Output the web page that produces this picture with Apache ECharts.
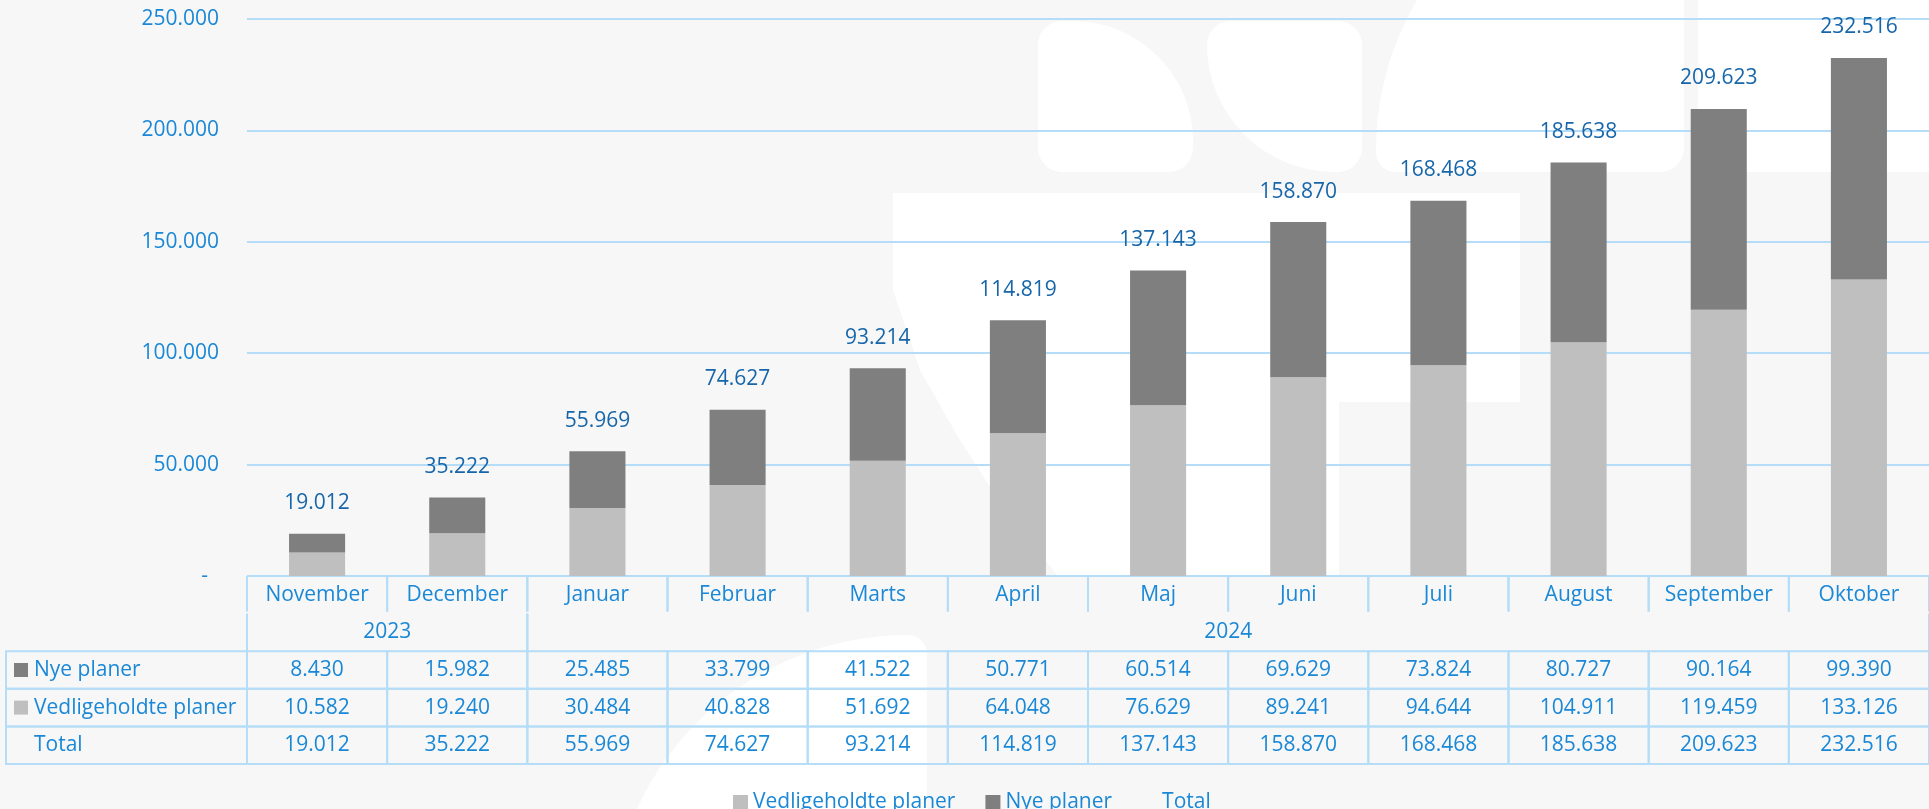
<!DOCTYPE html>
<html>
<head>
<meta charset="utf-8">
<title>Planer</title>
<script src="https://cdn.jsdelivr.net/npm/echarts@6/dist/echarts.min.js"></script>
<style>
  html, body { margin: 0; padding: 0; background: #f7f7f7; }
  #main { width: 1929px; height: 809px; }
</style>
</head>
<body>
<div id="main"></div>
<script>
  // data
  var months = ['November', 'December', 'Januar', 'Februar', 'Marts', 'April', 'Maj', 'Juni', 'Juli', 'August', 'September', 'Oktober']
  var years = ['2023', '2024']
  var yearSpans = [2, 10] // number of months under each year
  var nyePlaner = [8430, 15982, 25485, 33799, 41522, 50771, 60514, 69629, 73824, 80727, 90164, 99390]
  var vedlPlaner = [10582, 19240, 30484, 40828, 51692, 64048, 76629, 89241, 94644, 104911, 119459, 133126]
  var total = [19012, 35222, 55969, 74627, 93214, 114819, 137143, 158870, 168468, 185638, 209623, 232516]

  var BLUE = '#1a88d6'
  var DARKBLUE = '#1766aa'
  var LINE = '#b5ddf8'
  var FONT = 'Open Sans'

  function fmt(v) {
    return String(v).replace(/\B(?=(\d{3})+(?!\d))/g, '.')
  }

  // data table under the chart: row 0 months, row 1 years, rows 2-4 values
  var rowNames = ['Nye planer', 'Vedligeholdte planer', 'Total']
  var rowColors = ['#7f7f7f', '#bfbfbf', null]
  var rowData = [nyePlaner, vedlPlaner, total]
  var cells = []
  months.forEach(function (m, i) {
    cells.push({ kind: 'month', col: i, end: i, row: 0, text: m })
  })
  var start = 0
  years.forEach(function (y, i) {
    cells.push({ kind: 'year', col: start, end: start + yearSpans[i] - 1, row: 1, text: y })
    start += yearSpans[i]
  })
  rowData.forEach(function (arr, r) {
    cells.push({ kind: 'head', col: 0, end: 0, row: r + 2, text: rowNames[r], color: rowColors[r] })
    arr.forEach(function (v, i) {
      cells.push({ kind: 'data', col: i, end: i, row: r + 2, text: fmt(v) })
    })
  })

  function renderCell(params, api) {
    var cell = cells[params.dataIndex]
    var p0 = api.coord([cell.col, cell.row])
    var p1 = api.coord([cell.end, cell.row])
    var size = api.size([1, 1])
    var x0 = p0[0] - size[0] / 2
    var x1 = p1[0] + size[0] / 2
    var y0 = p0[1] - size[1] / 2
    var y1 = p0[1] + size[1] / 2
    var ls = { stroke: LINE, lineWidth: 2, fill: 'none' }
    var children = []
    function line(ax, ay, bx, by) {
      children.push({ type: 'line', shape: { x1: ax, y1: ay, x2: bx, y2: by }, style: ls })
    }
    if (cell.kind === 'head') {
      x0 = 6
      x1 = params.coordSys.x
    }
    if (cell.kind === 'month') {
      line(x0, y0, x1, y0)
      line(x0, y0, x0, y1 - 2)
      line(x1, y0, x1, y1 - 2)
    } else if (cell.kind === 'year') {
      line(x0, y0, x0, y1)
      line(x1, y0, x1, y1)
    } else {
      children.push({ type: 'rect', shape: { x: x0, y: y0, width: x1 - x0, height: y1 - y0 }, style: ls })
    }
    var tx = (x0 + x1) / 2
    var align = 'center'
    if (cell.kind === 'head') {
      tx = x0 + 28
      align = 'left'
      if (cell.color) {
        children.push({ type: 'rect', shape: { x: x0 + 8, y: p0[1] - 7, width: 14, height: 14 }, style: { fill: cell.color } })
      }
    }
    children.push({
      type: 'text',
      style: {
        text: cell.text, x: tx, y: p0[1], align: align, verticalAlign: 'middle',
        fill: BLUE, fontSize: 21, fontFamily: FONT
      }
    })
    return { type: 'group', children: children }
  }

  var myChart = echarts.init(document.getElementById('main'))
  var white = { fill: '#ffffff' }
  var option = {
    backgroundColor: '#f7f7f7',
    animation: false,
    // faint logo watermark in the background
    graphic: [
      { type: 'rect', z: -100, shape: { x: 1038, y: 21, width: 155, height: 151, r: [24, 120, 24, 24] }, style: white },
      { type: 'rect', z: -100, shape: { x: 1207, y: 21, width: 155, height: 151, r: [24, 24, 24, 130] }, style: white },
      { type: 'rect', z: -100, shape: { x: 1376, y: -145, width: 308, height: 317, r: [295, 0, 24, 20] }, style: white },
      { type: 'rect', z: -100, shape: { x: 1698, y: -40, width: 260, height: 212, r: [0, 0, 0, 24] }, style: white },
      {
        type: 'polygon', z: -100, style: white,
        shape: { points: [[893, 193], [1520, 193], [1520, 402], [1339, 402], [1339, 576], [1058, 576], [1005, 510], [958, 437], [920, 370], [893, 290]] }
      },
      { type: 'rect', z: -100, shape: { x: 610, y: 635, width: 317, height: 300, r: [310, 20, 0, 0] }, style: white }
    ],
    legend: {
      left: 733,
      top: 792,
      padding: 0,
      itemWidth: 15,
      itemHeight: 15,
      itemGap: 30,
      data: [
        { name: 'Vedligeholdte planer', icon: 'rect' },
        { name: 'Nye planer', icon: 'rect' },
        { name: 'Total', icon: 'rect', itemStyle: { opacity: 0 } }
      ],
      textStyle: { color: BLUE, fontSize: 21, fontFamily: FONT }
    },
    grid: [
      { left: 247, top: 19, width: 1702, height: 557 },
      { left: 247, top: 576, width: 1702, height: 188 }
    ],
    xAxis: [
      {
        type: 'category', data: months, gridIndex: 0,
        axisLine: { show: false }, axisTick: { show: false }, axisLabel: { show: false }
      },
      { type: 'category', data: months, gridIndex: 1, show: false }
    ],
    yAxis: [
      {
        type: 'value', gridIndex: 0, min: 0, max: 250000, interval: 50000,
        splitLine: { lineStyle: { color: LINE, width: 2 } },
        axisLabel: {
          margin: 28, color: BLUE, fontSize: 21, fontFamily: FONT,
          formatter: function (v) { return v === 0 ? '-  ' : fmt(v) }
        }
      },
      { type: 'category', data: ['m', 'y', 'n', 'v', 't'], inverse: true, gridIndex: 1, show: false }
    ],
    series: [
      {
        name: 'Vedligeholdte planer', type: 'bar', stack: 'plan', barWidth: '40%',
        data: vedlPlaner, itemStyle: { color: '#bfbfbf' }
      },
      {
        name: 'Nye planer', type: 'bar', stack: 'plan',
        data: nyePlaner, itemStyle: { color: '#7f7f7f' },
        label: {
          show: true, position: 'top', distance: 20,
          color: DARKBLUE, fontSize: 21, fontFamily: FONT,
          formatter: function (p) { return fmt(total[p.dataIndex]) }
        }
      },
      {
        name: 'Total', type: 'line', data: total, symbol: 'none', silent: true,
        lineStyle: { opacity: 0 }, itemStyle: { opacity: 0 }
      },
      {
        type: 'custom', xAxisIndex: 1, yAxisIndex: 1, silent: true,
        renderItem: renderCell,
        data: cells.map(function (c) { return [c.col, c.row] })
      }
    ]
  }
  myChart.setOption(option)
  window.addEventListener('resize', function () {
    myChart.resize()
  })
</script>
</body>
</html>
